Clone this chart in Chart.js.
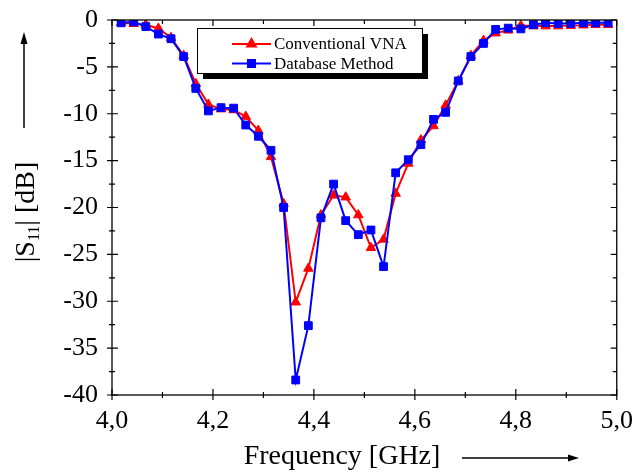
<!DOCTYPE html>
<html>
<head>
<meta charset="utf-8">
<script src="https://cdn.jsdelivr.net/npm/chart.js@4.4.0/dist/chart.umd.min.js"></script>
<style>
  html, body { margin: 0; padding: 0; background: #fff; }
  #wrap { width: 636px; height: 473px; }
</style>
</head>
<body>
<div id="wrap"><canvas id="s11Chart" width="636" height="473"></canvas></div>
<script>
// Frequency points [GHz]
const freqs = [4.018, 4.043, 4.067, 4.092, 4.117, 4.142, 4.166, 4.191, 4.216, 4.241,
               4.265, 4.290, 4.315, 4.340, 4.364, 4.389, 4.414, 4.439, 4.463, 4.488,
               4.513, 4.538, 4.562, 4.587, 4.612, 4.637, 4.661, 4.686, 4.711, 4.736,
               4.760, 4.785, 4.810, 4.835, 4.859, 4.884, 4.909, 4.934, 4.958, 4.983];

// |S11| [dB], conventional VNA measurement
const vnaValues = [-0.3, -0.4, -0.5, -0.9, -1.9, -3.8, -6.8, -9.0, -9.5, -9.6,
                   -10.3, -11.8, -14.6, -19.6, -30.1, -26.5, -20.8, -18.7, -18.9, -20.8,
                   -24.3, -23.4, -18.5, -15.3, -12.8, -11.3, -9.1, -6.5, -3.8, -2.2,
                   -1.4, -1.1, -0.6, -0.65, -0.65, -0.65, -0.6, -0.55, -0.5, -0.5];

// |S11| [dB], database method
const dbValues = [-0.3, -0.2, -0.7, -1.5, -2.0, -3.9, -7.3, -9.7, -9.35, -9.4,
                  -11.2, -12.4, -13.9, -20.0, -38.4, -32.6, -21.1, -17.5, -21.4, -22.9,
                  -22.4, -26.3, -16.3, -14.9, -13.3, -10.6, -9.85, -6.5, -3.9, -2.5,
                  -1.0, -0.87, -0.95, -0.5, -0.3, -0.37, -0.37, -0.3, -0.3, -0.3];

const seriesNames = ['Conventional VNA', 'Database Method'];
const xMajor = [4.0, 4.2, 4.4, 4.6, 4.8, 5.0];
const xMinor = [4.1, 4.3, 4.5, 4.7, 4.9];
const yMajor = [0, -5, -10, -15, -20, -25, -30, -35, -40];
const yMinor = [-2.5, -7.5, -12.5, -17.5, -22.5, -27.5, -32.5, -37.5];

const FONT = '"Liberation Serif", "Times New Roman", serif';
const RED = '#ff0000';
const BLUE = '#0000ff';

function toPoints(values) {
    return freqs.map((f, i) => ({ x: f, y: values[i] }));
}

// frame + ticks, custom legend, axis titles with arrows
const decorPlugin = {
    id: 'decor',
    afterDraw(chart) {
        const ctx = chart.ctx;
        const a = chart.chartArea;
        const xs = chart.scales.x;
        const ys = chart.scales.y;

        ctx.save();
        ctx.strokeStyle = '#000';
        ctx.lineWidth = 1.3;
        ctx.strokeRect(a.left, a.top, a.right - a.left, a.bottom - a.top);

        ctx.lineWidth = 1.2;
        ctx.beginPath();
        xMajor.forEach(v => {
            const px = xs.getPixelForValue(v);
            ctx.moveTo(px, a.bottom + 5); ctx.lineTo(px, a.bottom - 6);
            ctx.moveTo(px, a.top); ctx.lineTo(px, a.top + 6);
        });
        xMinor.forEach(v => {
            const px = xs.getPixelForValue(v);
            ctx.moveTo(px, a.bottom + 3); ctx.lineTo(px, a.bottom - 3);
            ctx.moveTo(px, a.top); ctx.lineTo(px, a.top + 4);
        });
        yMajor.forEach(v => {
            const py = ys.getPixelForValue(v);
            ctx.moveTo(a.left - 5, py); ctx.lineTo(a.left + 6, py);
            ctx.moveTo(a.right, py); ctx.lineTo(a.right - 6, py);
        });
        yMinor.forEach(v => {
            const py = ys.getPixelForValue(v);
            ctx.moveTo(a.left - 3, py); ctx.lineTo(a.left + 3, py);
            ctx.moveTo(a.right, py); ctx.lineTo(a.right - 4, py);
        });
        ctx.stroke();

        // legend box with drop shadow
        const lx = 197, ly = 28, lw = 225, lh = 45;
        ctx.fillStyle = '#000';
        ctx.fillRect(lx + 6, ly + 6, lw, lh);
        ctx.fillStyle = '#fff';
        ctx.fillRect(lx, ly, lw, lh);
        ctx.lineWidth = 1;
        ctx.strokeRect(lx + 0.5, ly + 0.5, lw, lh);

        const rows = [
            { y: 44, color: RED, style: 'triangle' },
            { y: 63.5, color: BLUE, style: 'rect' }
        ];
        rows.forEach((r, i) => {
            ctx.strokeStyle = r.color;
            ctx.lineWidth = 2;
            ctx.beginPath();
            ctx.moveTo(232, r.y); ctx.lineTo(271, r.y);
            ctx.stroke();
            ctx.fillStyle = r.color;
            Chart.helpers.drawPoint(ctx, { pointStyle: r.style, radius: 5, borderWidth: 1 }, 251.5, r.y);
            ctx.fillStyle = '#000';
            ctx.font = '17px ' + FONT;
            ctx.textBaseline = 'middle';
            ctx.textAlign = 'left';
            ctx.fillText(seriesNames[i], 274, r.y + 1);
        });

        // x title + arrow
        ctx.fillStyle = '#000';
        ctx.strokeStyle = '#000';
        ctx.font = '28px ' + FONT;
        ctx.textAlign = 'center';
        ctx.textBaseline = 'middle';
        ctx.fillText('Frequency [GHz]', 342, 457);
        ctx.lineWidth = 1.5;
        ctx.beginPath();
        ctx.moveTo(462, 458); ctx.lineTo(570, 458);
        ctx.stroke();
        ctx.beginPath();
        ctx.moveTo(579, 458); ctx.lineTo(568, 454.5); ctx.lineTo(568, 461.5);
        ctx.closePath();
        ctx.fill();

        // y title with subscript + arrow
        ctx.save();
        ctx.translate(27, 212);
        ctx.rotate(-Math.PI / 2);
        ctx.textAlign = 'left';
        ctx.textBaseline = 'middle';
        const p1 = '|S', p2 = '11', p3 = '| [dB]';
        ctx.font = '28px ' + FONT;
        const w1 = ctx.measureText(p1).width;
        const w3 = ctx.measureText(p3).width;
        ctx.font = '16px ' + FONT;
        const w2 = ctx.measureText(p2).width;
        const total = w1 + w2 + w3;
        let cx = -total / 2;
        ctx.font = '28px ' + FONT;
        ctx.fillText(p1, cx, 0); cx += w1;
        ctx.font = '16px ' + FONT;
        ctx.fillText(p2, cx, 8); cx += w2;
        ctx.font = '28px ' + FONT;
        ctx.fillText(p3, cx, 0);
        ctx.restore();

        ctx.beginPath();
        ctx.moveTo(24, 128); ctx.lineTo(24, 42);
        ctx.stroke();
        ctx.beginPath();
        ctx.moveTo(24, 32); ctx.lineTo(20.5, 44); ctx.lineTo(27.5, 44);
        ctx.closePath();
        ctx.fill();

        ctx.restore();
    }
};

new Chart(document.getElementById('s11Chart').getContext('2d'), {
    type: 'line',
    data: {
        datasets: [{
            label: seriesNames[0],
            data: toPoints(vnaValues),
            borderColor: RED,
            backgroundColor: RED,
            borderWidth: 2,
            pointStyle: 'triangle',
            pointRadius: 5.5,
            pointBorderWidth: 1,
            tension: 0,
            order: 2
        }, {
            label: seriesNames[1],
            data: toPoints(dbValues),
            borderColor: BLUE,
            backgroundColor: BLUE,
            borderWidth: 2,
            pointStyle: 'rect',
            pointRadius: 5.5,
            pointBorderWidth: 1,
            tension: 0,
            order: 1
        }]
    },
    options: {
        responsive: false,
        animation: false,
        layout: { padding: { left: 0, top: 20, right: 18, bottom: 0 } },
        plugins: {
            legend: { display: false },
            tooltip: { enabled: false }
        },
        scales: {
            x: {
                type: 'linear',
                min: 4,
                max: 5,
                grid: { display: false },
                border: { display: false },
                afterFit: function(scale) { scale.height = 78; },
                ticks: {
                    stepSize: 0.2,
                    padding: 3,
                    color: '#000',
                    font: { family: FONT, size: 26 },
                    maxRotation: 0,
                    callback: function(value) {
                        return value.toFixed(1).replace('.', ',');
                    }
                }
            },
            y: {
                min: -40,
                max: 0,
                grid: { display: false },
                border: { display: false },
                afterFit: function(scale) { scale.width = 112; },
                ticks: {
                    stepSize: 5,
                    padding: 6,
                    color: '#000',
                    font: { family: FONT, size: 26, lineHeight: 0.5 }
                }
            }
        }
    },
    plugins: [decorPlugin]
});
</script>
</body>
</html>
